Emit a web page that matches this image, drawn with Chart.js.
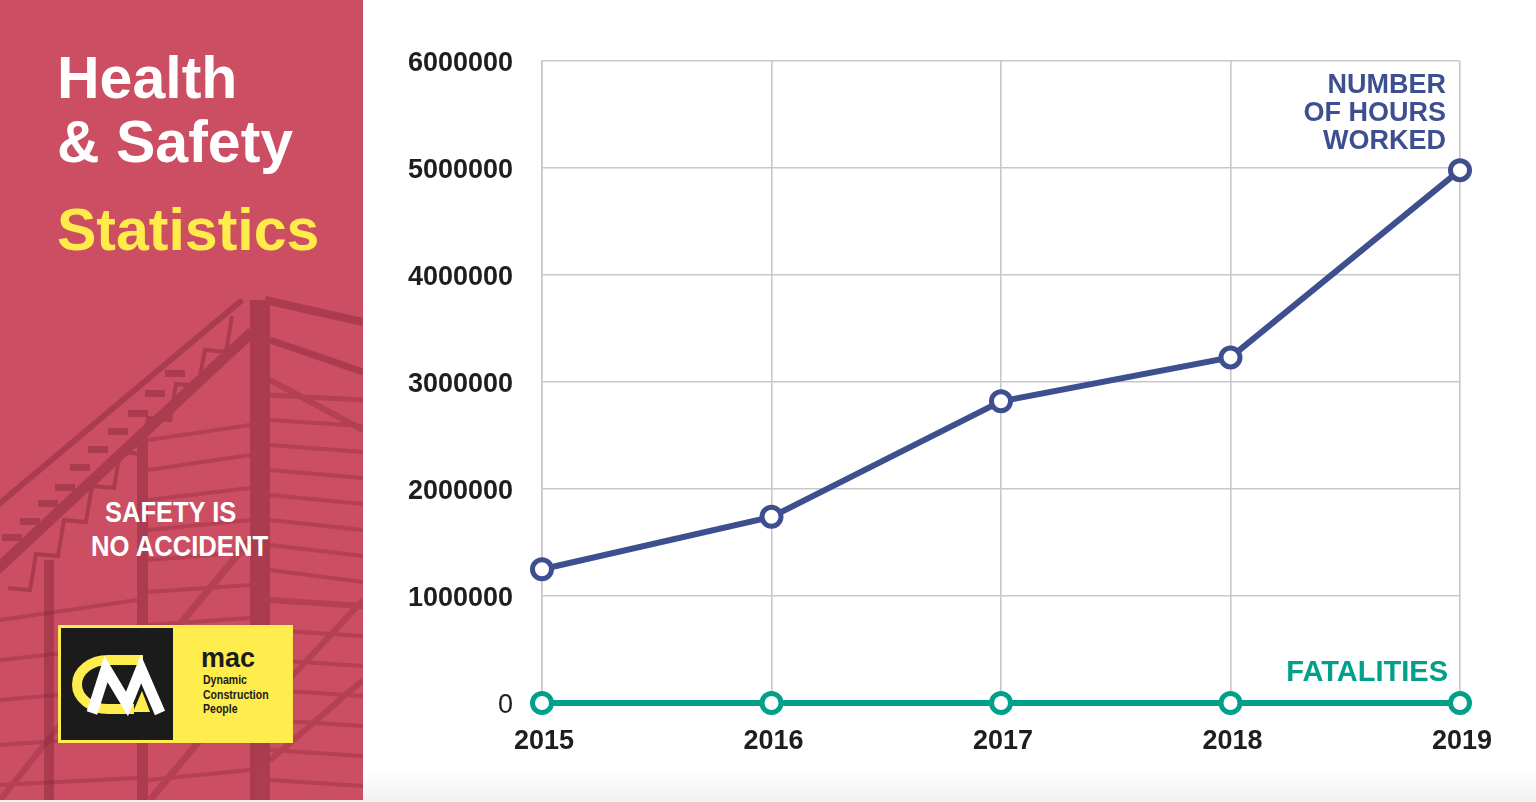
<!DOCTYPE html>
<html>
<head>
<meta charset="utf-8">
<script src="https://cdn.jsdelivr.net/npm/chart.js@4.4.1/dist/chart.umd.min.js"></script>
<style>
  html,body{margin:0;padding:0;}
  body{width:1536px;height:802px;position:relative;overflow:hidden;
    background:linear-gradient(to bottom,#ffffff 0px,#ffffff 770px,#f1f1f1 802px);
    font-family:"Liberation Sans",Arial,Helvetica,sans-serif;}
  #panel{position:absolute;left:0;top:0;width:363px;height:800px;background:#cc4e62;overflow:hidden;}
  .t{position:absolute;white-space:nowrap;line-height:1;font-weight:bold;}
  .cond{transform-origin:left top;}
  #wrap{position:absolute;left:363px;top:0;width:1173px;height:802px;}
</style>
</head>
<body>
<div id="panel">
  <svg width="363" height="800" style="position:absolute;left:0;top:0">
    <g stroke="#7c2334" fill="#7c2334" opacity="0.4">
      <rect x="250" y="300" width="20" height="500" stroke="none"/>
      <rect x="137" y="430" width="11" height="370" stroke="none"/>
      <rect x="44" y="560" width="10" height="240" stroke="none"/>
      <line x1="242" y1="300" x2="-20" y2="520" stroke-width="6"/>
      <line x1="252" y1="332" x2="-20" y2="585" stroke-width="11"/>
      <polyline points="232,316 226,352 205,350 198,386 176,384 170,420 148,418 142,454 120,452 114,488 92,486 86,522 64,520 58,556 36,554 30,590 8,588" fill="none" stroke-width="4"/>
      <line x1="265" y1="300" x2="363" y2="322" stroke-width="8"/>
      <line x1="270" y1="340" x2="363" y2="372" stroke-width="7"/>
      <rect x="165" y="370" width="20" height="7" stroke="none"/>
      <rect x="145" y="390" width="20" height="7" stroke="none"/>
      <rect x="128" y="410" width="20" height="7" stroke="none"/>
      <rect x="108" y="428" width="20" height="7" stroke="none"/>
      <rect x="88" y="446" width="20" height="7" stroke="none"/>
      <rect x="70" y="464" width="20" height="7" stroke="none"/>
      <rect x="55" y="484" width="20" height="7" stroke="none"/>
      <rect x="38" y="500" width="20" height="7" stroke="none"/>
      <rect x="20" y="518" width="20" height="7" stroke="none"/>
      <rect x="2" y="534" width="20" height="7" stroke="none"/>
    </g>
    <g stroke="#7c2334" opacity="0.3" fill="none">
      <line x1="270" y1="395" x2="363" y2="400" stroke-width="5"/>
      <line x1="270" y1="420" x2="363" y2="426" stroke-width="4"/>
      <line x1="270" y1="445" x2="363" y2="452" stroke-width="4"/>
      <line x1="270" y1="470" x2="363" y2="478" stroke-width="4"/>
      <line x1="270" y1="495" x2="363" y2="504" stroke-width="4"/>
      <line x1="270" y1="520" x2="363" y2="530" stroke-width="4"/>
      <line x1="270" y1="545" x2="363" y2="556" stroke-width="4"/>
      <line x1="270" y1="570" x2="363" y2="582" stroke-width="4"/>
      <line x1="270" y1="600" x2="363" y2="606" stroke-width="6"/>
      <line x1="270" y1="630" x2="363" y2="636" stroke-width="4"/>
      <line x1="270" y1="660" x2="363" y2="666" stroke-width="4"/>
      <line x1="270" y1="690" x2="363" y2="696" stroke-width="4"/>
      <line x1="270" y1="720" x2="363" y2="726" stroke-width="4"/>
      <line x1="270" y1="750" x2="363" y2="756" stroke-width="4"/>
      <line x1="270" y1="780" x2="363" y2="786" stroke-width="4"/>
      <line x1="148" y1="440" x2="250" y2="425" stroke-width="4"/>
      <line x1="148" y1="470" x2="250" y2="455" stroke-width="4"/>
      <line x1="148" y1="500" x2="250" y2="488" stroke-width="4"/>
      <line x1="148" y1="530" x2="250" y2="520" stroke-width="4"/>
      <line x1="148" y1="560" x2="250" y2="552" stroke-width="4"/>
      <line x1="148" y1="592" x2="250" y2="585" stroke-width="4"/>
      <line x1="148" y1="625" x2="250" y2="618" stroke-width="4"/>
      <line x1="148" y1="660" x2="250" y2="652" stroke-width="4"/>
      <line x1="148" y1="700" x2="250" y2="690" stroke-width="4"/>
      <line x1="148" y1="740" x2="250" y2="730" stroke-width="4"/>
      <line x1="148" y1="780" x2="250" y2="770" stroke-width="4"/>
      <line x1="0" y1="620" x2="137" y2="600" stroke-width="4"/>
      <line x1="0" y1="660" x2="137" y2="645" stroke-width="4"/>
      <line x1="0" y1="700" x2="137" y2="688" stroke-width="4"/>
      <line x1="0" y1="745" x2="137" y2="735" stroke-width="4"/>
      <line x1="0" y1="785" x2="137" y2="778" stroke-width="4"/>
      <line x1="150" y1="660" x2="250" y2="540" stroke-width="7"/>
      <line x1="150" y1="800" x2="250" y2="680" stroke-width="7"/>
      <line x1="270" y1="700" x2="363" y2="600" stroke-width="6"/>
      <line x1="270" y1="760" x2="363" y2="680" stroke-width="6"/>
      <line x1="270" y1="380" x2="363" y2="430" stroke-width="6"/>
      <line x1="0" y1="800" x2="120" y2="650" stroke-width="6"/>
    </g>
  </svg>

  <div class="t" style="left:57px;top:49px;font-size:59px;color:#ffffff;">Health</div>
  <div class="t" style="left:57px;top:113px;font-size:59px;color:#ffffff;">&amp; Safety</div>
  <div class="t" style="left:57px;top:201px;font-size:59px;color:#ffec4a;">Statistics</div>

  <div class="t cond" style="left:105px;top:497px;font-size:30px;color:#ffffff;transform:scaleX(0.85);">SAFETY IS</div>
  <div class="t cond" style="left:91px;top:531px;font-size:30px;color:#ffffff;transform:scaleX(0.855);">NO ACCIDENT</div>

  <svg width="363" height="800" style="position:absolute;left:0;top:0">
    <rect x="58" y="625" width="235" height="118" fill="#ffec4d"/>
    <rect x="61" y="628" width="112" height="112" fill="#1b1b1b"/>
    <path d="M 143 660 L 108 660 A 31 24.5 0 0 0 108 709 L 134 709" fill="none" stroke="#ffec4d" stroke-width="10"/>
    <polyline points="92,713 106,669 127,704 141,669 160,713" fill="none" stroke="#ffffff" stroke-width="11" stroke-linejoin="miter"/>
    <polygon points="133,712 142,691 150,712" fill="#ffec4d"/>
  </svg>
  <div class="t" style="left:201px;top:645px;font-size:27px;color:#1b1b1b;">mac</div>
  <div class="t cond" style="left:203px;top:673px;font-size:13.7px;color:#1b1b1b;transform:scaleX(0.77);">Dynamic</div>
  <div class="t cond" style="left:203px;top:687.5px;font-size:13.7px;color:#1b1b1b;transform:scaleX(0.77);">Construction</div>
  <div class="t cond" style="left:203px;top:701.5px;font-size:13.7px;color:#1b1b1b;transform:scaleX(0.77);">People</div>
</div>

<div id="wrap"><canvas id="c"></canvas></div>

<div class="t" style="right:90px;top:70px;font-size:27px;line-height:28px;color:#3d4f8f;text-align:right;">NUMBER<br>OF HOURS<br>WORKED</div>
<div class="t" style="right:88px;top:657px;font-size:29px;color:#00a08a;">FATALITIES</div>

<script>
const years = ['2015', '2016', '2017', '2018', '2019'];
const hoursWorked = [1250000, 1740000, 2820000, 3230000, 4980000];
const fatalities = [0, 0, 0, 0, 0];
const yMin = 0;
const yMax = 6000000;
const yStep = 1000000;

const FONT = '"Liberation Sans", Arial, Helvetica, sans-serif';
const GRID = '#c8c8c8';

new Chart(document.getElementById('c'), {
  type: 'line',
  data: {
    labels: years,
    datasets: [
      {
        label: 'Number of hours worked',
        data: hoursWorked,
        borderColor: '#3d4f8f',
        backgroundColor: '#ffffff',
        borderWidth: 6,
        pointRadius: 9.5,
        pointHoverRadius: 9.5,
        pointBorderWidth: 5,
        pointBackgroundColor: '#ffffff',
        pointBorderColor: '#3d4f8f',
        tension: 0,
        clip: false
      },
      {
        label: 'Fatalities',
        data: fatalities,
        borderColor: '#00a08a',
        backgroundColor: '#ffffff',
        borderWidth: 6,
        pointRadius: 9.5,
        pointHoverRadius: 9.5,
        pointBorderWidth: 5,
        pointBackgroundColor: '#ffffff',
        pointBorderColor: '#00a08a',
        tension: 0,
        clip: false
      }
    ]
  },
  options: {
    responsive: true,
    maintainAspectRatio: false,
    animation: false,
    layout: { padding: { top: 61, right: 76, bottom: 0, left: 0 } },
    plugins: { legend: { display: false }, tooltip: { enabled: false } },
    scales: {
      x: {
        type: 'category',
        offset: false,
        grid: { color: GRID, lineWidth: 1.6, drawTicks: false },
        border: { display: true, color: GRID, width: 1.6 },
        ticks: {
          color: '#1e1e1e',
          font: { family: FONT, size: 27, weight: 'bold' },
          padding: 22,
          labelOffset: 2,
          maxRotation: 0
        },
        afterFit: (s) => { s.height = 99; }
      },
      y: {
        min: yMin,
        max: yMax,
        grid: { color: GRID, lineWidth: 1.6, drawTicks: false },
        border: { display: true, color: GRID, width: 1.6 },
        ticks: {
          stepSize: yStep,
          color: '#1e1e1e',
          padding: 29,
          labelOffset: 3,
          font: (ctx) => ({ family: FONT, size: 27, weight: (ctx.tick && ctx.tick.value === 0) ? 'normal' : 'bold' }),
          callback: (v) => String(v)
        },
        afterFit: (s) => { s.width = 179; }
      }
    }
  }
});
</script>
</body>
</html>
